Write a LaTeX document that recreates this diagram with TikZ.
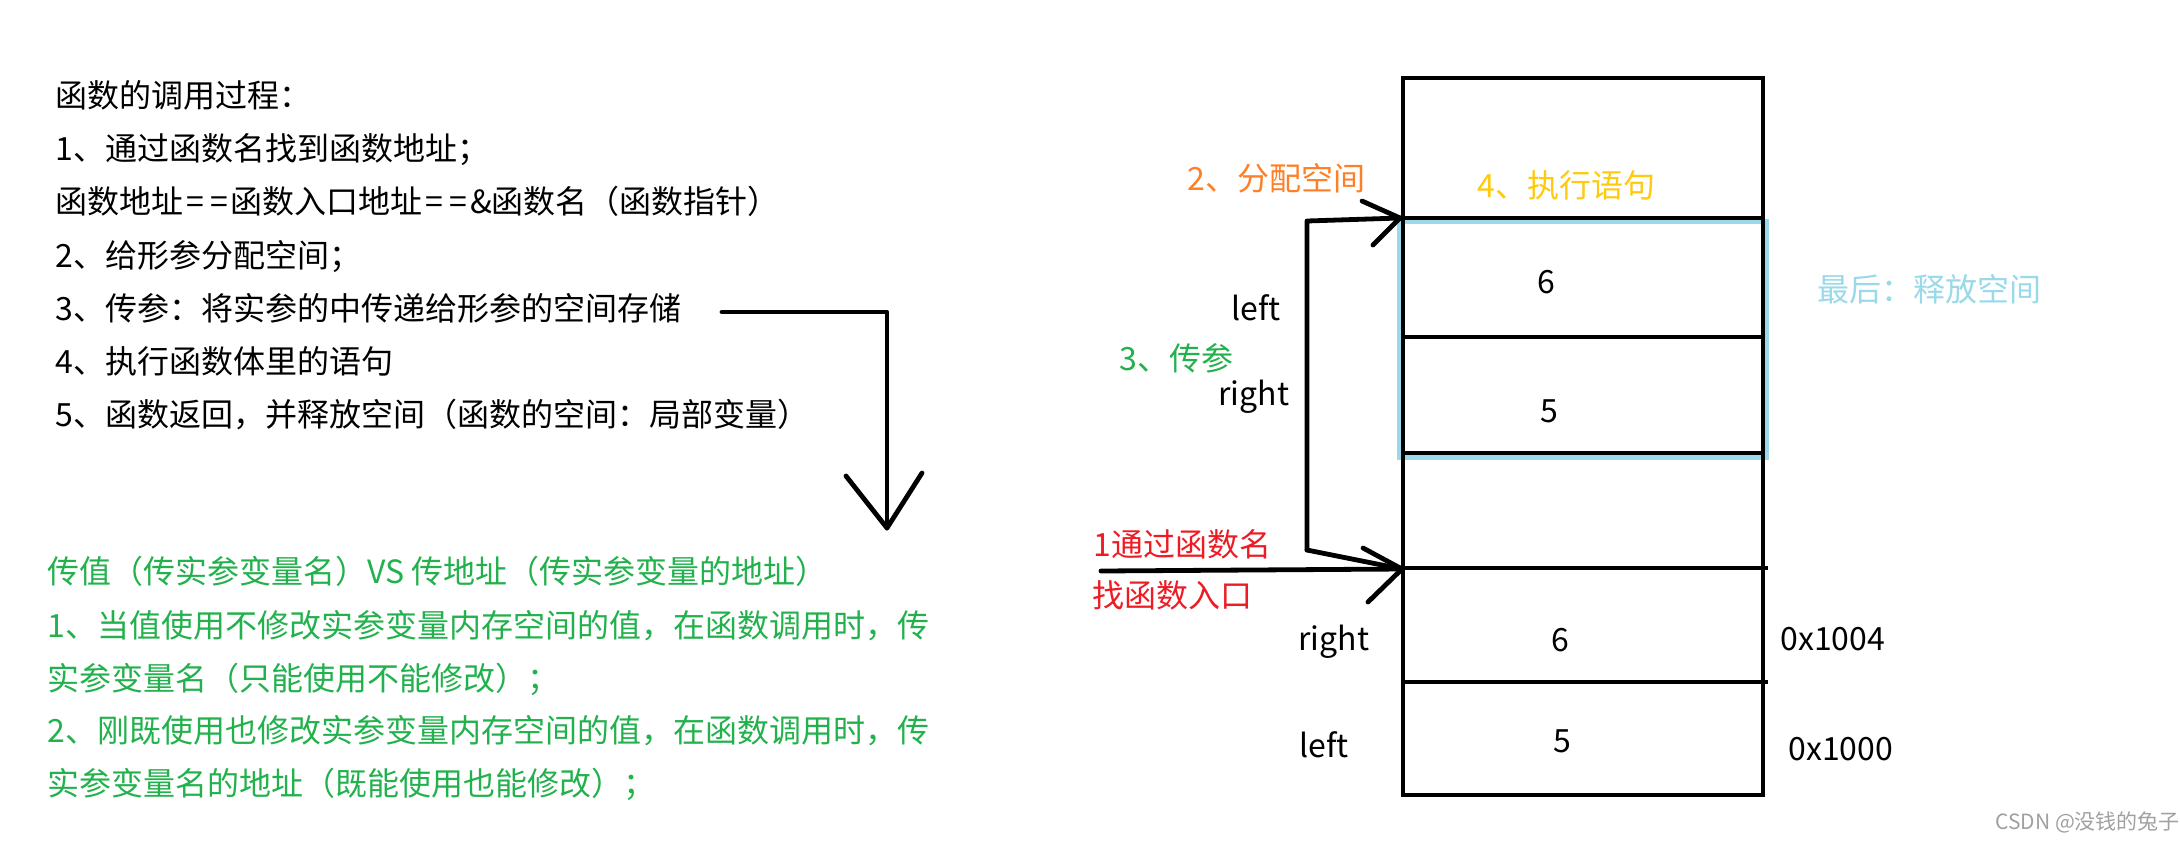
\documentclass[tikz,border=0pt]{standalone}
\usepackage{fontspec}
\setmainfont{Noto Sans CJK SC}
\definecolor{pgreen}{HTML}{22B14C}
\definecolor{porange}{HTML}{FF7F27}
\definecolor{pyellow}{HTML}{FFC90E}
\definecolor{pred}{HTML}{ED1C24}
\definecolor{pblue}{HTML}{99D9EA}
\definecolor{wmgray}{HTML}{A0A0A0}
\newcommand{\eqw}{\makebox[0.74em]{=}}
\tikzset{
  txt/.style={font=\fontsize{16pt}{16pt}\selectfont, inner sep=0pt, anchor=base west},
  ctxt/.style={font=\fontsize{16pt}{16pt}\selectfont, inner sep=0pt, anchor=base},
  stk/.style={line width=2.3pt},
  arr/.style={line width=2.4pt, line cap=round, line join=round},
  bluebox/.style={draw=pblue, line width=2.8pt}
}
\begin{document}
\begin{tikzpicture}[x=0.5pt,y=-0.5pt]
\useasboundingbox (0,0) rectangle (2180,842);
% ---------- left text ----------
\node[txt] (l0) at (55,107) {函数的调用过程：};
\node[txt] (l1) at (55,160) {1、通过函数名找到函数地址；};
\node[txt] (l2) at (55,213) {函数地址\eqw\eqw 函数入口地址\eqw\eqw\&函数名（函数指针）};
\node[txt] (l3) at (55,267) {2、给形参分配空间；};
\node[txt] (l4) at (55,320) {3、传参：将实参的中传递给形参的空间存储};
\node[txt] (l5) at (55,373) {4、执行函数体里的语句};
\node[txt] (l6) at (55,426) {5、函数返回，并释放空间（函数的空间：局部变量）};
% ---------- green text ----------
\node[txt,text=pgreen] (g0) at (47,583) {传值（传实参变量名）VS 传地址（传实参变量的地址）};
\node[txt,text=pgreen] (g1) at (47,637) {1、当值使用不修改实参变量内存空间的值，在函数调用时，传};
\node[txt,text=pgreen] (g2) at (47,690) {实参变量名（只能使用不能修改）；};
\node[txt,text=pgreen] (g3) at (47,742) {2、刚既使用也修改实参变量内存空间的值，在函数调用时，传};
\node[txt,text=pgreen] (g4) at (47,795) {实参变量名的地址（既能使用也能修改）；};
% ---------- left big arrow ----------
\coordinate (a0) at (722,312);
\coordinate (a1) at (887,312);
\coordinate (a2) at (887,528);
\coordinate (a3) at (846,476);
\coordinate (a4) at (922,473);
\draw[arr] (a0) -- (a1) -- (a2);
\draw[arr] (a3) -- (a2) -- (a4);
% ---------- stack ----------
\coordinate (sTL) at (1403,78);
\coordinate (sBR) at (1763,795);
\coordinate (bTL) at (1400,221.5);
\coordinate (bBR) at (1766,457.5);
\draw[bluebox] (bTL) rectangle (bBR);
\draw[stk] (sTL) rectangle (sBR);
\draw[stk] (1403,218) -- (1763,218);
\draw[stk] (1403,337) -- (1763,337);
\draw[stk] (1403,453) -- (1763,453);
\draw[stk] (1403,568) -- (1768,568);
\draw[stk] (1403,682) -- (1768,682);
% values
\node[ctxt] (v6a) at (1546,293) {6};
\node[ctxt] (v5a) at (1549,422) {5};
\node[ctxt] (v6b) at (1560,651) {6};
\node[ctxt] (v5b) at (1562,752) {5};
% labels
\node[txt,text=porange] (t2) at (1187,190) {2、分配空间};
\node[txt,text=pyellow] (t4) at (1477,197) {4、执行语句};
\node[txt,text=pgreen] (t3) at (1119,370) {3、传参};
\node[txt] (lft1) at (1231,320) {left};
\node[txt] (rgt1) at (1218,405) {right};
\node[txt,text=pred] (t1a) at (1093,556) {1通过函数名};
\node[txt,text=pred] (t1b) at (1092,607) {找函数入口};
\node[txt] (rgt2) at (1298,650) {right};
\node[txt] (lft2) at (1299,757) {left};
\node[txt] (ad1) at (1780,650) {0x1004};
\node[txt] (ad0) at (1788,760) {0x1000};
\node[txt,text=pblue] (tf) at (1817,301) {最后：释放空间};
\node[inner sep=0pt, anchor=base west, text=wmgray, font=\fontsize{10.5pt}{10.5pt}\selectfont] (wm) at (1995,829) {CSDN @没钱的兔子};
% ---------- bracket arrow (3 传参) ----------
\coordinate (bt) at (1400,218);
\coordinate (bc) at (1307,221);
\coordinate (bb) at (1307,550);
\coordinate (bu1) at (1362,201);
\coordinate (bu2) at (1373,245);
\draw[arr] (bb) -- (bc) -- (bt);
\draw[arr] (bu1) -- (bt) -- (bu2);
% ---------- arrow 1 ----------
\coordinate (h0) at (1101,571);
\coordinate (h1) at (1402,569);
\coordinate (hu1) at (1363,548);
\coordinate (hu2) at (1368,602);
\draw[arr] (h0) -- (h1);
\draw[arr] (bb) -- (h1);
\draw[arr] (hu1) -- (h1) -- (hu2);
\end{tikzpicture}
\end{document}
